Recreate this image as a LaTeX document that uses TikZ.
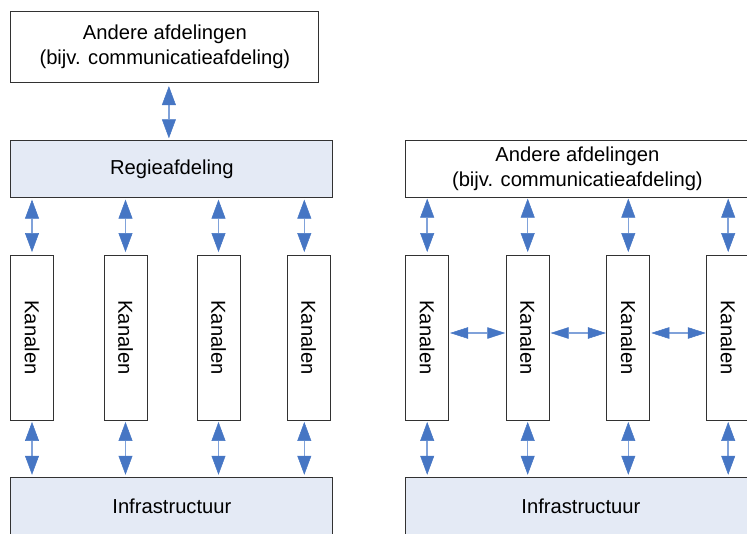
\documentclass[tikz,border=0pt]{standalone}
\usepackage{fontspec}
\setmainfont{Liberation Sans}
\usetikzlibrary{arrows.meta}
\definecolor{tipblue}{RGB}{70,118,196}
\definecolor{shaftblue}{RGB}{128,162,218}
\definecolor{boxfill}{RGB}{228,234,245}
\definecolor{boxline}{RGB}{50,50,50}
\tikzset{
  box/.style={draw=boxline, line width=0.9pt, fill=white, inner sep=0pt,
    font=\fontsize{20.2}{25}\selectfont, align=center},
  bluebox/.style={box, fill=boxfill},
  channel/.style={box, minimum width=43pt, minimum height=165pt},
  vtip/.tip={Triangle[width=14pt,length=19pt,color=tipblue,line width=0.5pt]},
  htip/.tip={Triangle[width=11.5pt,length=18pt,color=tipblue,line width=0.5pt]},
  vbi/.style={draw=shaftblue, line width=1.5pt, arrows={vtip-vtip}},
  hbi/.style={draw=shaftblue, line width=1.5pt, arrows={htip-htip}},
}
\begin{document}
\begin{tikzpicture}[x=1pt,y=-1pt]
\useasboundingbox (0,0) rectangle (747,533);
\clip (0,0) rectangle (747,533);

% ---- left column: central direction department ----
\node[box, minimum width=308pt, minimum height=71pt] (andL) at (164.9,47.2)
  {Andere afdelingen\\(bijv. communicatieafdeling)};
\node[bluebox, minimum width=322pt, minimum height=57pt] (regie) at (171.9,169.2)
  {Regieafdeling};
\node[channel] (k1) at (32,337.5) {\rotatebox{-90}{Kanalen}};
\node[channel] (k2) at (125.5,337.5) {\rotatebox{-90}{Kanalen}};
\node[channel] (k3) at (218.5,337.5) {\rotatebox{-90}{Kanalen}};
\node[channel] (k4) at (308.7,337.5) {\rotatebox{-90}{Kanalen}};
\node[bluebox, minimum width=322pt, minimum height=57pt] (infL) at (171.9,506.2)
  {Infrastructuur};

\draw[vbi, shorten <=3pt, shorten >=2pt] ([xshift=4pt]andL.south) -- ([xshift=-3pt]regie.north);
\foreach \k in {k1,k2,k3} {
  \draw[vbi, shorten <=1.5pt, shorten >=2.5pt] (regie.south -| \k.north) -- (\k.north);
  \draw[vbi, shorten <=1.5pt, shorten >=2.5pt] (\k.south) -- (infL.north -| \k.south);
}
\draw[vbi, shorten <=1.5pt, shorten >=2.5pt] ([xshift=-4.4pt]k4.north |- regie.south) -- ([xshift=-4.4pt]k4.north);
\draw[vbi, shorten <=1.5pt, shorten >=2.5pt] ([xshift=-4.4pt]k4.south) -- ([xshift=-4.4pt]k4.south |- infL.north);

% ---- right column: channels working side by side ----
\node[box, minimum width=343.3pt, minimum height=57pt] (andR) at (577.4,169.2)
  {Andere afdelingen\\(bijv. communicatieafdeling)};
\node[channel] (r1) at (427.2,337.5) {\rotatebox{-90}{Kanalen}};
\node[channel] (r2) at (527.7,337.5) {\rotatebox{-90}{Kanalen}};
\node[channel] (r3) at (628.3,337.5) {\rotatebox{-90}{Kanalen}};
\node[channel] (r4) at (728.2,337.5) {\rotatebox{-90}{Kanalen}};
\node[bluebox, minimum width=350.3pt, minimum height=57pt] (infR) at (580.9,506.2)
  {Infrastructuur};

\foreach \k in {r1,r2,r3,r4} {
  \draw[vbi, shorten <=0.5pt, shorten >=2.5pt] (andR.south -| \k.north) -- (\k.north);
  \draw[vbi, shorten <=1.5pt, shorten >=2.5pt] (\k.south) -- (infR.north -| \k.south);
}
\draw[hbi, shorten <=1pt, shorten >=0.5pt] ([yshift=4.5pt]r1.east) -- ([yshift=4.5pt]r2.west);
\draw[hbi, shorten <=1pt, shorten >=0.5pt] ([yshift=4.5pt]r2.east) -- ([yshift=4.5pt]r3.west);
\draw[hbi, shorten <=1pt, shorten >=0.5pt] ([yshift=4.5pt]r3.east) -- ([yshift=4.5pt]r4.west);
\end{tikzpicture}
\end{document}
